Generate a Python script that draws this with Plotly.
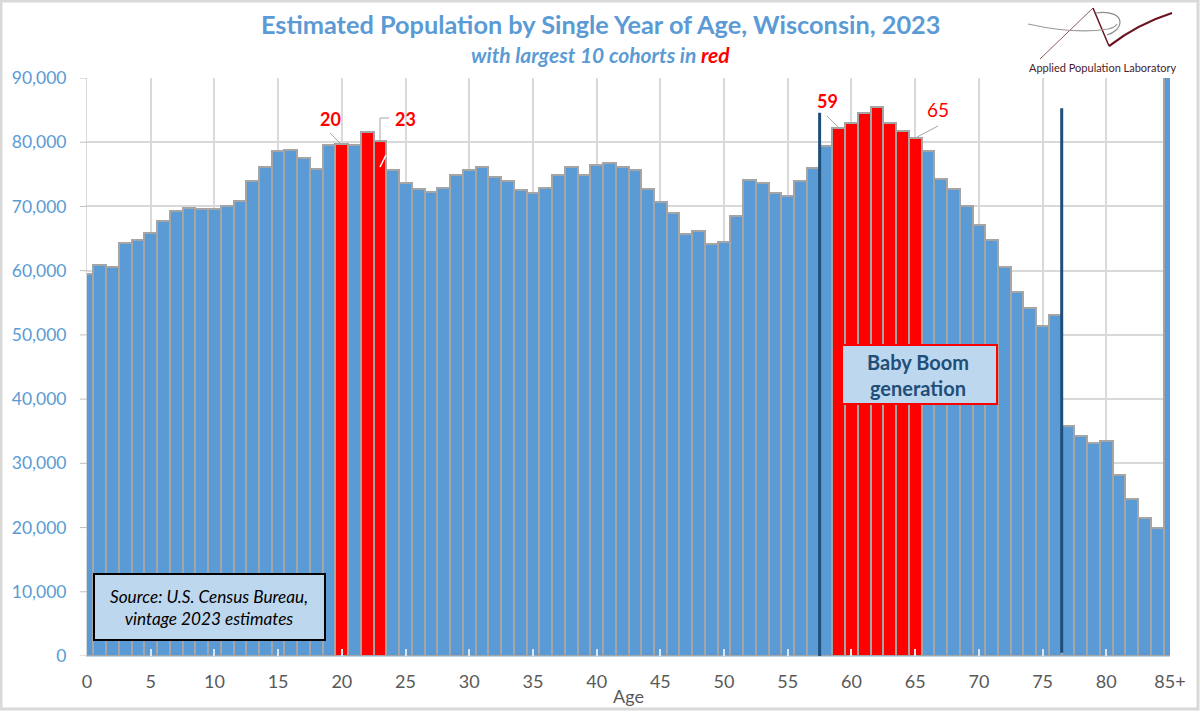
import plotly.graph_objects as go

ages = list(range(86))
population = [59420, 60920, 60620, 64320, 64820, 65920, 67720, 69320, 69720, 69620,
              69620, 70120, 70920, 74020, 76120, 78620, 78720, 77520, 75820, 79520,
              79720, 79520, 81620, 80220, 75720, 73720, 72720, 72220, 72920, 74820,
              75620, 76220, 74620, 74020, 72520, 72020, 72920, 74820, 76220, 74920,
              76420, 76720, 76220, 75720, 72720, 70620, 68920, 65720, 66120, 64120,
              64420, 68520, 74120, 73620, 72120, 71620, 74020, 76020, 79420, 82220,
              83020, 84620, 85420, 83020, 81820, 80720, 78620, 74320, 72720, 70120,
              67120, 64820, 60620, 56620, 54120, 51320, 53120, 35820, 34220, 33120,
              33420, 28120, 24420, 21520, 19920, 125000]
largest_ages = [20, 22, 23, 59, 60, 61, 62, 63, 64, 65]
x_tick_vals = [0, 5, 10, 15, 20, 25, 30, 35, 40, 45, 50, 55, 60, 65, 70, 75, 80, 85]
x_tick_text = ["0", "5", "10", "15", "20", "25", "30", "35", "40", "45", "50", "55",
               "60", "65", "70", "75", "80", "85+"]
y_tick_vals = [0, 10000, 20000, 30000, 40000, 50000, 60000, 70000, 80000, 90000]

W, H = 1200, 711
L, R, T, B = 87, 1170, 78, 656
FONT = "Lato"
BLUE = "#5B9BD5"

def px(x):
    return (x - L) / (R - L)

def py(y):
    return (B - y) / (B - T)

def pline(x0, y0, x1, y1, color, width):
    return dict(type="line", xref="paper", yref="paper", x0=px(x0), y0=py(y0), x1=px(x1), y1=py(y1),
                line=dict(color=color, width=width), layer="above")

def ppath(points, color, width):
    d = ""
    for cmd, *nums in points:
        d += cmd
        d += " ".join(f"{px(nums[i]):.5f},{py(nums[i+1]):.5f}" for i in range(0, len(nums), 2)) + " "
    return dict(type="path", xref="paper", yref="paper", path=d.strip(),
                line=dict(color=color, width=width), layer="above")

def label(x, y, text, size, color, **kw):
    return dict(xref="paper", yref="paper", x=px(x), y=py(y), text=text, showarrow=False,
                xanchor="center", yanchor="middle",
                font=dict(family=FONT, size=size, color=color), **kw)

def box(x0, y0, x1, y1, border, width):
    return dict(type="rect", xref="paper", yref="paper", x0=px(x0), y0=py(y0), x1=px(x1), y1=py(y1),
                fillcolor="#BDD7EE", line=dict(color=border, width=width), layer="above")

colors = ["#FF0000" if a in largest_ages else BLUE for a in ages]

fig = go.Figure(go.Bar(x=ages, y=population, width=1, marker=dict(color=colors, line=dict(color="#A5A5A5", width=2))))

shapes = [
    # image frame
    dict(type="rect", xref="paper", yref="paper", x0=px(1), y0=py(1), x1=px(W - 2), y1=py(H - 2),
         line=dict(color="#D9D9D9", width=3), layer="below"),
    # generation bounds
    dict(type="line", xref="x", yref="y", x0=57.5, x1=57.5, y0=-300, y1=84600,
         line=dict(color="#1F4E79", width=3), layer="above"),
    dict(type="line", xref="x", yref="y", x0=76.5, x1=76.5, y0=500, y1=85300,
         line=dict(color="#1F4E79", width=3), layer="above"),
    # leaders
    pline(330, 133, 340, 143, "#A5A5A5", 1),
    ppath([("M", 389, 118), ("L", 380, 118), ("L", 380, 140)], "#A5A5A5", 1),
    pline(380, 167, 386, 155, "#FFFFFF", 1.5),
    pline(827, 116, 838, 127, "#A5A5A5", 1),
    pline(938, 126, 917, 137, "#A5A5A5", 1),
    # boxes
    box(842, 345, 997, 404, "#FF0000", 2),
    box(94, 574, 325, 640, "#000000", 2),
    # logo
    pline(1040, 59, 1093, 8, "#8A5A62", 1),
    pline(1093, 8, 1109, 46, "#6B1220", 1.5),
    ppath([("M", 1109, 46), ("C", 1130, 30, 1150, 20, 1172, 13)], "#6B1220", 2.2),
    ppath([("M", 1028, 24), ("C", 1055, 30, 1085, 33, 1108, 29), ("C", 1113, 28, 1116, 26, 1117, 24)], "#9A9A9A", 1.2),
    ppath([("M", 1096, 13), ("C", 1110, 11, 1120, 15, 1120, 22), ("C", 1120, 28, 1114, 33, 1107, 35)], "#8C8C8C", 1.2),
]
# short visible y ticks; the axis's own long transparent ticks set the label gap
for v in y_tick_vals:
    shapes.append(dict(type="line", xref="paper", yref="y", x0=px(80), x1=px(87), y0=v, y1=v,
                       line=dict(color="#BFBFBF", width=1), layer="above"))

annotations = [
    label(600, 24, "<b>Estimated Population by Single Year of Age, Wisconsin, 2023</b>", 25.3, BLUE),
    label(600, 54, "<b><i>with largest 10 cohorts in <span style='color:#FF0000'>red</span></i></b>", 21, BLUE),
    label(1103, 67, "Applied Population Laboratory", 11, "#4A1A28"),
    label(330, 119, "<b>20</b>", 18, "#FF0000"),
    label(405, 119, "<b>23</b>", 18, "#FF0000"),
    label(827, 101, "<b>59</b>", 18, "#FF0000"),
    label(938, 110, "65", 19, "#FF0000"),
    label(918, 374.5, "<b>Baby Boom<br>generation</b>", 20, "#1F4E79"),
    label(209, 607, "<i>Source: U.S. Census Bureau,<br>vintage 2023 estimates</i>", 17.2, "#000000"),
    label(628, 696, "Age", 18, "#595959"),
]

fig.update_layout(
    width=W, height=H,
    margin=dict(l=L, r=W - R, t=T, b=H - B, autoexpand=False),
    paper_bgcolor="white", plot_bgcolor="white",
    showlegend=False, bargap=0,
    shapes=shapes, annotations=annotations,
    font=dict(family=FONT),
    xaxis=dict(range=[0, 85], tickmode="array", automargin=False,
               tickvals=x_tick_vals, ticktext=x_tick_text,
               ticks="inside", ticklen=7, tickcolor="#DCE6F1", tickwidth=1.5, ticklabelstandoff=9,
               tickfont=dict(family=FONT, size=18, color="#595959"),
               showgrid=True, gridcolor="#D9D9D9", gridwidth=1.5,
               showline=True, linecolor="#BDD7EE", linewidth=1, zeroline=False),
    yaxis=dict(range=[0, 90000], tickmode="array", tickvals=y_tick_vals, tickformat=",d", automargin=False,
               ticks="outside", ticklen=16, tickcolor="rgba(0,0,0,0)", tickwidth=1,
               tickfont=dict(family=FONT, size=17.5, color=BLUE),
               showgrid=True, gridcolor="#D9D9D9", gridwidth=1.5,
               showline=True, linecolor="#D9D9D9", linewidth=1, zeroline=False),
)

fig.write_html("out.html", post_script="document.body.style.margin='0';",
               config={"displayModeBar": False})
